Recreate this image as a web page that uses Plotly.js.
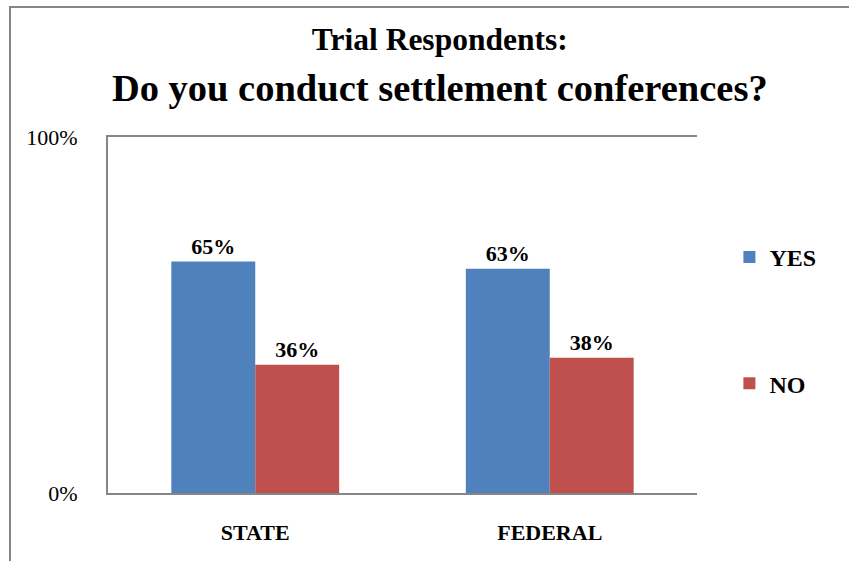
<!DOCTYPE html>
<html>
<head>
<meta charset="utf-8">
<script src="https://cdn.plot.ly/plotly-3.0.1.min.js"></script>
<style>
html,body{margin:0;padding:0;background:#fff;overflow:hidden;}
#frame{position:absolute;left:9px;top:6px;width:900px;height:600px;border-left:2px solid #868686;border-top:2px solid #868686;box-sizing:border-box;}
#chart{position:absolute;left:0;top:0;width:849px;height:561px;}
</style>
</head>
<body>
<div id="frame"></div>
<div id="chart"></div>
<script>
const categories = ["STATE", "FEDERAL"];
const yesValues = [65, 63];
const noValues = [36, 38];
const seriesNames = ["YES", "NO"];
const yTickVals = [0, 100];
const yTickText = ["0%", "100%"];

const serif = "Liberation Serif";
const axisGrey = "#868686";

const traces = [
  {
    type: "bar", name: seriesNames[0], x: categories, y: yesValues,
    marker: {color: "#4F81BD"},
    text: yesValues.map(v => "<b>" + v + "%</b>"),
    textposition: "outside", cliponaxis: false,
    textfont: {family: serif, size: 22, color: "#000"},
    legendgroup: "a", hoverinfo: "none"
  },
  {
    type: "bar", name: seriesNames[1], x: categories, y: noValues,
    marker: {color: "#C0504D"},
    text: noValues.map(v => "<b>" + v + "%</b>"),
    textposition: "outside", cliponaxis: false,
    textfont: {family: serif, size: 22, color: "#000"},
    legendgroup: "b", hoverinfo: "none"
  }
];

const layout = {
  width: 849, height: 561,
  paper_bgcolor: "rgba(0,0,0,0)", plot_bgcolor: "rgba(0,0,0,0)",
  margin: {l: 108, r: 152, t: 137, b: 68},
  font: {family: serif, color: "#000"},
  title: {
    text: "<b><span style='font-size:31.5px'>Trial Respondents:</span></b><br><b>Do you conduct settlement conferences?</b>",
    font: {family: serif, size: 38.5, color: "#000"},
    x: 0.518, xanchor: "center", xref: "container",
    y: 0.91, yanchor: "top", yref: "container"
  },
  barmode: "group",
  bargap: 0.43, bargroupgap: 0,
  showlegend: true,
  legend: {
    x: 1.055, xanchor: "left", y: 0.485, yanchor: "middle",
    font: {family: serif, size: 24, color: "#000", weight: "bold"},
    traceorder: "grouped", tracegroupgap: 92,
    itemwidth: 30, bgcolor: "rgba(0,0,0,0)"
  },
  xaxis: {
    showline: true, linecolor: axisGrey, linewidth: 2, mirror: true,
    ticks: "", showgrid: false,
    tickfont: {family: serif, size: 22, color: "#000", weight: "bold"},
    ticklabelstandoff: 19, fixedrange: true
  },
  yaxis: {
    range: [0, 100], tickvals: yTickVals, ticktext: yTickText,
    showline: true, linecolor: axisGrey, linewidth: 2,
    showgrid: true, gridcolor: axisGrey, gridwidth: 2,
    zeroline: false, ticks: "",
    tickfont: {family: serif, size: 22, color: "#000"},
    ticklabelstandoff: 24, fixedrange: true
  }
};

Plotly.newPlot("chart", traces, layout, {displayModeBar: false, staticPlot: true});
</script>
</body>
</html>
